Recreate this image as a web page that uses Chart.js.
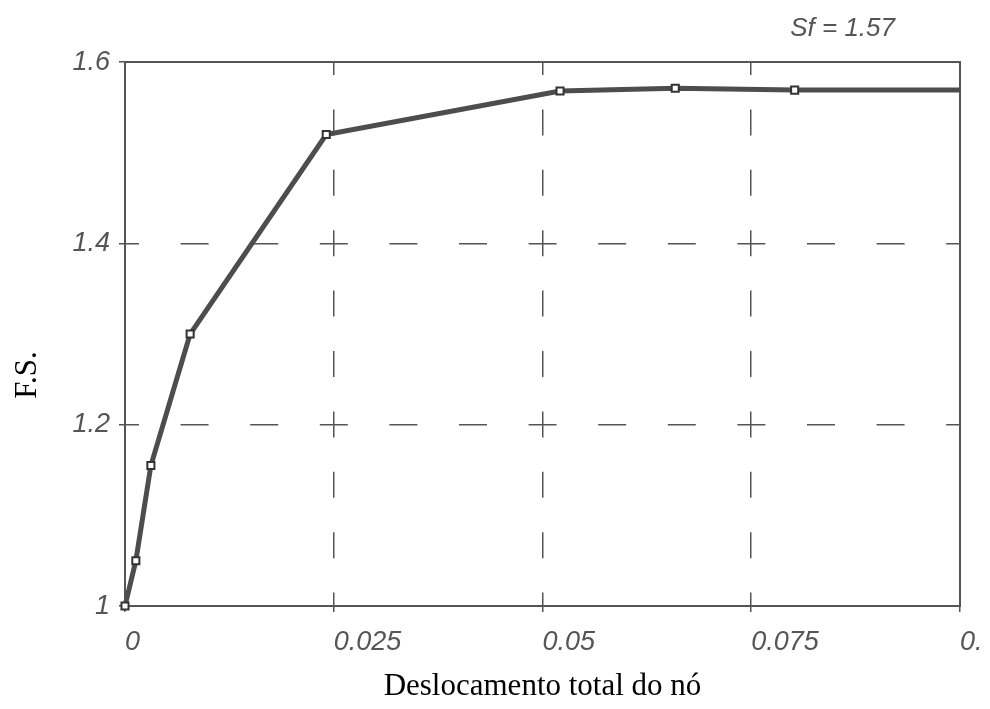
<!DOCTYPE html>
<html>
<head>
<meta charset="utf-8">
<script src="https://cdn.jsdelivr.net/npm/chart.js@4/dist/chart.umd.min.js"></script>
<style>
  html, body { margin: 0; padding: 0; background: #ffffff; }
  #wrap { width: 990px; height: 709px; position: relative; }
</style>
</head>
<body>
<div id="wrap"><canvas id="c" width="990" height="709"></canvas></div>
<script>
// ---- data ----
const displacement = [0, 0.0013, 0.0031, 0.0078, 0.0241, 0.0521, 0.0659, 0.0802, 0.1];
const safetyFactor = [1.0, 1.05, 1.155, 1.30, 1.52, 1.568, 1.571, 1.569, 1.569];
const markerShown = [true, true, true, true, true, true, true, true, false];
const xTickValues = [0, 0.025, 0.05, 0.075, 0.1];
const xTickLabels = ['0', '0.025', '0.05', '0.075', '0.'];
const yTickValues = [1, 1.2, 1.4, 1.6];
const yTickLabels = ['1', '1.2', '1.4', '1.6'];
const xTitle = 'Deslocamento total do nó';
const yTitle = 'F.S.';
const noteText = 'Sf = 1.57';

const ink = '#4d4d4d';
const tickFont = { family: '"Liberation Sans", Arial, sans-serif', size: 27, style: 'italic' };

const framePlugin = {
  id: 'frame',
  beforeDatasetsDraw(chart) {
    const { ctx, chartArea: a } = chart;
    ctx.save();
    ctx.strokeStyle = '#555';
    ctx.lineWidth = 2;
    ctx.strokeRect(a.left, a.top, a.right - a.left, a.bottom - a.top);
    ctx.restore();
  },
  afterDraw(chart) {
    const { ctx, chartArea: a } = chart;
    ctx.save();
    // annotation at top right
    ctx.fillStyle = '#555';
    ctx.font = 'italic 26px "Liberation Sans", Arial, sans-serif';
    ctx.textAlign = 'right';
    ctx.textBaseline = 'alphabetic';
    ctx.fillText(noteText, a.right - 65, 36);
    // vertical axis title
    ctx.fillStyle = '#000';
    ctx.font = '31px "Liberation Serif", "Times New Roman", serif';
    ctx.translate(28, 375);
    ctx.rotate(-Math.PI / 2);
    ctx.textAlign = 'center';
    ctx.textBaseline = 'middle';
    ctx.fillText(yTitle, 0, 0);
    ctx.restore();
  }
};

new Chart(document.getElementById('c'), {
  type: 'line',
  data: {
    datasets: [{
      data: displacement.map((x, i) => ({ x: x, y: safetyFactor[i] })),
      borderColor: ink,
      borderWidth: 5,
      pointStyle: 'rect',
      pointRadius: markerShown.map(s => s ? 5 : 0),
      pointBackgroundColor: '#ffffff',
      pointBorderColor: '#333',
      pointBorderWidth: 2,
      tension: 0,
      clip: 10
    }]
  },
  options: {
    responsive: false,
    animation: false,
    layout: { padding: { top: 62, right: 30, left: 0, bottom: 0 } },
    plugins: { legend: { display: false }, tooltip: { enabled: false } },
    scales: {
      x: {
        type: 'linear',
        min: 0,
        max: 0.1,
        afterBuildTicks: s => { s.ticks = xTickValues.map(v => ({ value: v })); },
        afterFit: s => { s.height = 103; s.paddingLeft = 0; s.paddingRight = 0; },
        ticks: {
          align: 'start',
          padding: 14,
          color: '#555',
          font: tickFont,
          maxRotation: 0,
          autoSkip: false,
          callback: (v, i) => xTickLabels[i]
        },
        grid: {
          color: '#555',
          lineWidth: 1.5,
          drawTicks: true,
          tickLength: 6,
          tickColor: '#555',
          tickWidth: 1.5,
          tickBorderDash: []
        },
        border: { display: false, dash: [26, 34.4], dashOffset: 13 },
        title: {
          display: true,
          text: xTitle,
          color: '#000',
          font: { family: '"Liberation Serif", "Times New Roman", serif', size: 31 },
          padding: { top: 0, bottom: 4 }
        }
      },
      y: {
        type: 'linear',
        min: 1,
        max: 1.6,
        afterBuildTicks: s => { s.ticks = yTickValues.map(v => ({ value: v })); },
        afterFit: s => { s.width = 125; s.paddingTop = 0; s.paddingBottom = 0; },
        ticks: {
          padding: 9,
          color: '#555',
          font: tickFont,
          autoSkip: false,
          callback: (v, i) => yTickLabels[i]
        },
        grid: {
          color: '#555',
          lineWidth: 1.5,
          drawTicks: true,
          tickLength: 6,
          tickColor: '#555',
          tickWidth: 1.5,
          tickBorderDash: []
        },
        border: { display: false, dash: [28, 41.6], dashOffset: 14 }
      }
    }
  },
  plugins: [framePlugin]
});
</script>
</body>
</html>
